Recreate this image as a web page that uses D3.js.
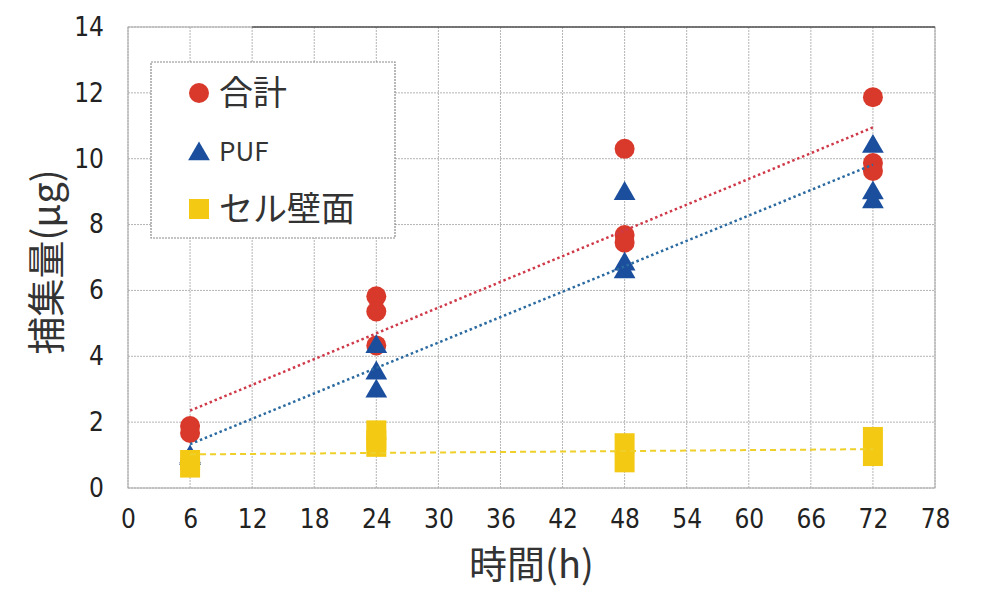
<!DOCTYPE html>
<html><head><meta charset="utf-8">
<script src="https://cdn.jsdelivr.net/npm/d3@7"></script>
<style>
html,body{margin:0;padding:0;background:#fff;}
svg{display:block;}
</style></head>
<body>
<svg id="chart" width="983" height="603"></svg>
<script>
// ---- data ----
const xTicks = [0,6,12,18,24,30,36,42,48,54,60,66,72,78];
const yTicks = [0,2,4,6,8,10,12,14];
const seriesNames = ["合計","PUF","セル壁面"];
const totalX = [6,6,24,24,24,48,48,48,72,72,72];
const totalY = [1.88,1.67,5.82,5.36,4.33,10.3,7.68,7.45,11.87,9.87,9.63];
const pufX = [6,6,24,24,24,48,48,48,72,72,72];
const pufY = [1.0,0.95,4.35,3.55,3.0,9.0,6.86,6.62,10.43,9.02,8.75];
const wallX = [6,6,24,24,24,48,48,72,72];
const wallY = [0.85,0.62,1.75,1.45,1.25,1.36,0.78,1.55,0.97];
const trendX = [6,72];
const trendTotal = [2.35,10.95];
const trendPuf = [1.33,9.82];
const trendWall = [1.02,1.18];
const xLabel = "時間(h)";
const yLabel = "捕集量(μg)";

const colors = {total:"#d8392b", puf:"#1b4f9e", wall:"#f3c914"};
const trendColors = {total:"#cf3a4a", puf:"#2a6aa0", wall:"#efd02a"};

const svg = d3.select("#chart");
const L=128, R=935, T=27, B=488;
const x = d3.scaleLinear().domain([0,78]).range([L,R]);
const y = d3.scaleLinear().domain([0,14]).range([B,T]);

// grid
const g = svg.append("g");
g.selectAll(".vg").data(xTicks).enter().append("line")
  .attr("x1",d=>x(d)).attr("x2",d=>x(d)).attr("y1",T).attr("y2",B)
  .attr("stroke","#b4b4b4").attr("stroke-width",1).attr("stroke-dasharray","2,1");
g.selectAll(".hg").data(yTicks).enter().append("line")
  .attr("y1",d=>y(d)).attr("y2",d=>y(d)).attr("x1",L).attr("x2",R)
  .attr("stroke","#b4b4b4").attr("stroke-width",1).attr("stroke-dasharray","2,1");
// frame
svg.append("rect").attr("x",L).attr("y",T).attr("width",R-L).attr("height",B-T)
  .attr("fill","none").attr("stroke","#a8a8a8").attr("stroke-width",1);
svg.append("line").attr("x1",x(12)).attr("x2",R).attr("y1",T).attr("y2",T)
  .attr("stroke","#222").attr("stroke-width",1);

// axes
const tickFont = "'Liberation Sans Narrow','DejaVu Sans Condensed','Liberation Sans',sans-serif";
const xAxis = svg.append("g").attr("transform",`translate(0,${B})`)
  .call(d3.axisBottom(x).tickValues(xTicks).tickSize(0).tickPadding(22));
const yAxis = svg.append("g").attr("transform",`translate(${L},0)`)
  .call(d3.axisLeft(y).tickValues(yTicks).tickSize(0).tickPadding(24));
[xAxis,yAxis].forEach(a=>{
  a.select(".domain").remove();
  a.selectAll("text").attr("font-family",tickFont).attr("font-size",26).attr("fill","#222");
});
xAxis.selectAll("text").attr("dy","0.71em");

// trend lines
const line = d3.line().x(d=>x(d[0])).y(d=>y(d[1]));
function trend(vals,color,dash,w){
  svg.append("path").datum(trendX.map((v,i)=>[v,vals[i]]))
    .attr("d",line).attr("fill","none").attr("stroke",color)
    .attr("stroke-width",w).attr("stroke-dasharray",dash);
}

// markers
const circleSym = d3.symbol().type(d3.symbolCircle).size(Math.PI*10*10);
const triSym = d3.symbol().type(d3.symbolTriangle).size(205);
const sqSym = d3.symbol().type(d3.symbolSquare).size(20*20);

svg.append("g").selectAll("path").data(totalX.map((v,i)=>[v,totalY[i]])).enter()
  .append("path").attr("d",circleSym).attr("fill",colors.total)
  .attr("transform",d=>`translate(${x(d[0])},${y(d[1])})`);
trend(trendTotal,trendColors.total,"2.5,2.8",2.5);
svg.append("g").selectAll("path").data(pufX.map((v,i)=>[v,pufY[i]])).enter()
  .append("path").attr("d",triSym).attr("fill",colors.puf)
  .attr("transform",d=>`translate(${x(d[0])},${y(d[1])+2})`);
trend(trendPuf,trendColors.puf,"2.5,2.8",2.5);
svg.append("g").selectAll("path").data(wallX.map((v,i)=>[v,wallY[i]])).enter()
  .append("path").attr("d",sqSym).attr("fill",colors.wall)
  .attr("transform",d=>`translate(${x(d[0])},${y(d[1])})`);
trend(trendWall,trendColors.wall,"6,4",2);

// axis titles
const cjk = "'Noto Sans CJK JP','Noto Sans',sans-serif";
svg.append("text").attr("x",(L+R)/2).attr("y",578).attr("text-anchor","middle")
  .attr("font-family",cjk).attr("font-size",38).attr("fill","#333").text(xLabel);
svg.append("text").attr("transform","translate(60,262) rotate(-90)").attr("text-anchor","middle")
  .attr("font-family",cjk).attr("font-size",38).attr("fill","#333").text(yLabel);

// legend
const lg = svg.append("g");
lg.append("rect").attr("x",151).attr("y",62).attr("width",244).attr("height",176)
  .attr("fill","#fff").attr("stroke","#8a8a8a").attr("stroke-width",1.2).attr("stroke-dasharray","2,1");
const legItems = [
  {sym:circleSym, c:colors.total, y:93, size:34},
  {sym:triSym, c:colors.puf, y:152, size:26},
  {sym:sqSym, c:colors.wall, y:209, size:34}
];
legItems.forEach((it,i)=>{
  lg.append("path").attr("d",it.sym).attr("fill",it.c)
    .attr("transform",`translate(199,${it.y + (i===1?2:0)})`);
  lg.append("text").attr("x",219).attr("y",it.y).attr("dy","0.36em")
    .attr("font-family",cjk).attr("font-size",it.size).attr("fill","#333").text(seriesNames[i]);
});
</script>
</body></html>
